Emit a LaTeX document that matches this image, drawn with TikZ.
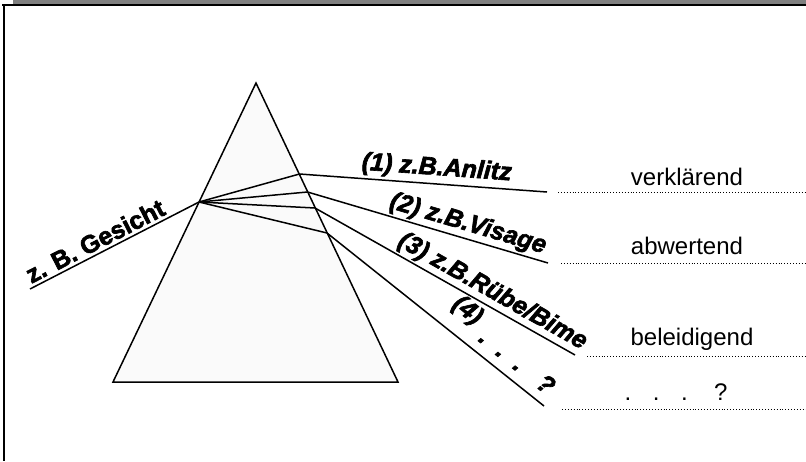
\documentclass[tikz,border=0pt]{standalone}
\usepackage{fontspec}
\setmainfont{Liberation Sans}
\newfontfamily\heavyfont[FakeBold=2.5]{Liberation Sans}
\begin{document}
\begin{tikzpicture}[x=1pt,y=-1pt,
  frameline/.style={line width=2pt,black},
  prism/.style={line width=1.5pt,fill=gray!4,line join=miter},
  ray/.style={line width=1.5pt},
  rule/.style={dotted,line width=0.9pt},
  raylabel/.style={sloped,font=\heavyfont\fontsize{25}{27}\selectfont\bfseries\itshape,inner sep=1pt},
  inlabel/.style={sloped,font=\heavyfont\fontsize{25}{27}\selectfont\bfseries,inner sep=1pt},
  sense/.style={font=\fontsize{24}{26}\selectfont,inner sep=0pt}]
\useasboundingbox (0,0) rectangle (806,461);

% frame: grey strip, top rule and left rule
\fill[black!50] (13,0) rectangle (806,4);
\draw[frameline] (2,5) -- (806,5);
\draw[frameline] (4,5) -- (4,461);

% prism
\coordinate (apex) at (256,83);
\coordinate (bl) at (113,382);
\coordinate (br) at (398,382);
\draw[prism] (apex) -- (br) -- (bl) -- cycle;

% incoming ray and its entry point
\coordinate (src) at (30,289);
\coordinate (entry) at (199,202);
\draw[ray] (src) -- node[inlabel,above=2pt,pos=0.42] {z. B. Gesicht} (entry);

% exit points on the right face
\coordinate (x1) at (299.5,174);
\coordinate (x2) at (307.5,192);
\coordinate (x3) at (315,208);
\coordinate (x4) at (327,233);
\draw[ray] (entry) -- (x1);
\draw[ray] (entry) -- (x2);
\draw[ray] (entry) -- (x3);
\draw[ray] (entry) -- (x4);

% outgoing rays
\coordinate (e1) at (547,192);
\coordinate (e2) at (548,263);
\coordinate (e3) at (575,355);
\coordinate (e4) at (544,406);
\draw[ray] (x1) -- node[raylabel,above=2pt,pos=0.55] {(1) z.B.Anlitz} (e1);
\draw[ray] (x2) -- node[raylabel,above=1pt,pos=0.65] {(2) z.B.Visage} (e2);
\draw[ray] (x3) -- node[raylabel,above=1pt,pos=0.655] {(3) z.B.Rübe/Bime} (e3);
\draw[ray] (x4) -- node[raylabel,above=13pt,pos=0.57] {(4)}
                  node[raylabel,above=8pt,pos=0.825] {.\hspace{0.6em}.\hspace{0.6em}.\hspace{0.9em}?} (e4);

% answer lines with their words
\coordinate (d1a) at (558,192); \coordinate (d1b) at (806,192);
\coordinate (d2a) at (561,263); \coordinate (d2b) at (806,263);
\coordinate (d3a) at (587,356); \coordinate (d3b) at (806,356);
\coordinate (d4a) at (562,409); \coordinate (d4b) at (806,409);
\draw[rule] (d1a) -- (d1b);
\draw[rule] (d2a) -- (d2b);
\draw[rule] (d3a) -- (d3b);
\draw[rule] (d4a) -- (d4b);
\node[sense] (w1) at (687,177) {verklärend};
\node[sense] (w2) at (687,246) {abwertend};
\node[sense] (w3) at (692,339) {beleidigend};
\node[sense] (w4) at (676,392) {.\hspace{0.9em}.\hspace{0.9em}.\hspace{1.1em}?};
\end{tikzpicture}
\end{document}
